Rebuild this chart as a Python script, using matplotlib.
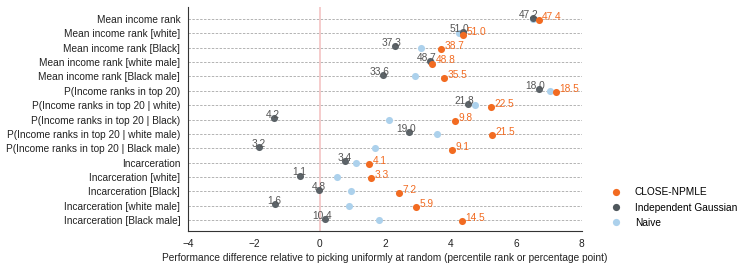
import matplotlib
matplotlib.use("Agg")
import matplotlib.pyplot as plt
import numpy as np
from matplotlib.lines import Line2D

plt.rcParams['font.family'] = ['Liberation Sans', 'DejaVu Sans']

categories = [
    "Mean income rank",
    "Mean income rank [white]",
    "Mean income rank [Black]",
    "Mean income rank [white male]",
    "Mean income rank [Black male]",
    "P(Income ranks in top 20)",
    "P(Income ranks in top 20 | white)",
    "P(Income ranks in top 20 | Black)",
    "P(Income ranks in top 20 | white male)",
    "P(Income ranks in top 20 | Black male)",
    "Incarceration",
    "Incarceration [white]",
    "Incarceration [Black]",
    "Incarceration [white male]",
    "Incarceration [Black male]",
]

close_npmle = [6.69, 4.37, 3.72, 3.43, 3.81, 7.22, 5.22, 4.14, 5.26, 4.04, 1.51, 1.58, 2.44, 2.95, 4.35]
indep_gauss = [6.50, 4.37, 2.31, 3.38, 1.93, 6.70, 4.53, -1.40, 2.74, -1.84, 0.78, -0.61, -0.01, -1.35, 0.18]
naive = [6.50, 4.27, 3.10, 3.40, 2.90, 7.04, 4.75, 2.11, 3.58, 1.70, 1.10, 0.54, 0.97, 0.91, 1.80]

close_labels = ["47.4", "51.0", "38.7", "48.8", "35.5", "18.5", "22.5", "9.8", "21.5", "9.1",
                "4.1", "3.3", "7.2", "5.9", "14.5"]
gauss_labels = ["47.2", "51.0", "37.3", "48.7", "33.6", "18.0", "21.8", "4.2", "19.0", "3.2",
                "3.4", "1.1", "4.8", "1.6", "10.4"]

series_names = ["CLOSE-NPMLE", "Independent Gaussian", "Naive"]
c_close = "#f26b21"
c_gauss = "#4f575c"
c_naive = "#acd1ec"

fs = 7.25

fig = plt.figure(figsize=(7.47, 2.69), dpi=100)
ax = fig.add_axes([0.2523, 0.141, 0.5264, 0.833])

y = np.arange(len(categories))
off = 0.1

for yi in y:
    ax.axhline(yi, color="#b3b3b3", lw=0.7, ls=(0, (2.5, 1.5)), zorder=0)
ax.axvline(0, color="#f3c4c4", lw=1.2, zorder=0.5)

s = 26
ax.scatter(naive, y, s=s, color=c_naive, zorder=2, linewidths=0)
ax.scatter(indep_gauss, y - off, s=s, color=c_gauss, zorder=3, linewidths=0, alpha=0.92)
ax.scatter(close_npmle, y + off, s=s, color=c_close, zorder=4, linewidths=0)

for xi, yi, lab in zip(indep_gauss, y - off, gauss_labels):
    ax.annotate(lab, (xi, yi), xytext=(4.5, 2.2), textcoords="offset points",
                ha="right", va="center", fontsize=fs, color="#555555", zorder=5)
for xi, yi, lab in zip(close_npmle, y + off, close_labels):
    ax.annotate(lab, (xi, yi), xytext=(2.5, 2.2), textcoords="offset points",
                ha="left", va="center", fontsize=fs, color=c_close, zorder=5)

ax.set_xlim(-4, 8)
ax.set_ylim(14.77, -0.84)
ax.set_yticks(y)
ax.set_yticklabels(categories, fontsize=fs)
ax.set_xticks([-4, -2, 0, 2, 4, 6, 8])
ax.tick_params(axis="both", length=0, labelsize=fs, colors="#222222")
ax.tick_params(axis="y", pad=6)
ax.tick_params(axis="x", pad=6)
for sp in ["top", "right"]:
    ax.spines[sp].set_visible(False)
for sp in ["left", "bottom"]:
    ax.spines[sp].set_color("#333333")
    ax.spines[sp].set_linewidth(0.8)
ax.set_xlabel("Performance difference relative to picking uniformly at random (percentile rank or percentage point)",
              fontsize=fs, color="#222222", labelpad=2.5)

handles = [Line2D([], [], marker="o", ls="", color=c, markersize=5.2, markeredgewidth=0)
           for c in [c_close, c_gauss, c_naive]]
fig.legend(handles, series_names, loc="center left", bbox_to_anchor=(0.818, 0.2286),
           frameon=False, fontsize=fs, borderpad=0, borderaxespad=0, handlelength=1.0,
           handletextpad=1.35, labelspacing=0.5)

fig.savefig("out.png", dpi=100)
